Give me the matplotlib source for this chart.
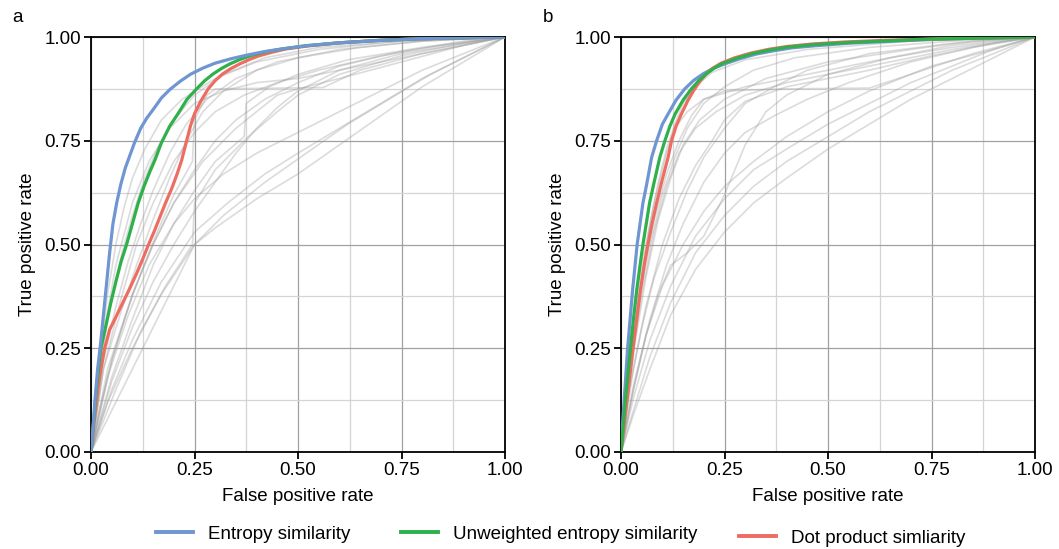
import matplotlib
matplotlib.use("Agg")
import matplotlib.pyplot as plt
from matplotlib.lines import Line2D

plt.rcParams["font.family"] = ["Liberation Sans", "DejaVu Sans"]
FS = 13.5

BLUE = "#6f95d3"
GREEN = "#2eb04b"
RED = "#ee6d63"

# panel a: highlighted methods (false positive rate, true positive rate)
a_entropy_fpr = [0, 0.005, 0.01, 0.016, 0.023, 0.03, 0.037, 0.045, 0.053, 0.062, 0.072, 0.083, 0.094,
                 0.105, 0.12, 0.135, 0.15, 0.17, 0.19, 0.215, 0.24, 0.27, 0.3, 0.34, 0.375, 0.42,
                 0.46, 0.52, 0.6, 0.7, 0.8, 0.9, 1.0]
a_entropy_tpr = [0, 0.06, 0.13, 0.2, 0.26, 0.33, 0.40, 0.48, 0.55, 0.60, 0.645, 0.685, 0.715,
                 0.745, 0.78, 0.805, 0.825, 0.853, 0.873, 0.893, 0.91, 0.925, 0.937, 0.948, 0.956, 0.965,
                 0.971, 0.979, 0.986, 0.992, 0.996, 0.998, 1.0]
a_unweighted_fpr = [0, 0.006, 0.012, 0.018, 0.024, 0.035, 0.048, 0.06, 0.073, 0.086, 0.1, 0.114, 0.128,
                    0.142, 0.155, 0.17, 0.19, 0.21, 0.232, 0.255, 0.275, 0.295, 0.315, 0.335, 0.36,
                    0.385, 0.42, 0.46, 0.52, 0.6, 0.7, 0.8, 0.9, 1.0]
a_unweighted_tpr = [0, 0.07, 0.14, 0.2, 0.25, 0.3, 0.36, 0.41, 0.46, 0.5, 0.55, 0.6, 0.64,
                    0.675, 0.705, 0.745, 0.785, 0.815, 0.85, 0.875, 0.895, 0.911, 0.924, 0.935, 0.946,
                    0.955, 0.964, 0.971, 0.979, 0.986, 0.992, 0.996, 0.998, 1.0]
a_dot_fpr = [0, 0.006, 0.012, 0.018, 0.024, 0.033, 0.045, 0.06, 0.077, 0.094, 0.11, 0.125, 0.139,
             0.152, 0.166, 0.18, 0.195, 0.208, 0.219, 0.231, 0.24, 0.25, 0.265, 0.283, 0.3, 0.318,
             0.338, 0.359, 0.383, 0.407, 0.44, 0.47, 0.52, 0.6, 0.7, 0.8, 0.9, 1.0]
a_dot_tpr = [0, 0.06, 0.11, 0.16, 0.2, 0.25, 0.295, 0.325, 0.36, 0.395, 0.43, 0.465, 0.5,
             0.53, 0.565, 0.6, 0.635, 0.67, 0.703, 0.75, 0.785, 0.815, 0.845, 0.875, 0.895, 0.911,
             0.924, 0.935, 0.946, 0.955, 0.964, 0.971, 0.978, 0.986, 0.992, 0.996, 0.998, 1.0]

# panel b: highlighted methods
b_entropy_fpr = [0, 0.004, 0.008, 0.012, 0.016, 0.022, 0.028, 0.034, 0.039, 0.046, 0.053, 0.062, 0.074,
                 0.086, 0.1, 0.114, 0.133, 0.154, 0.175, 0.198, 0.222, 0.25, 0.285, 0.327, 0.37,
                 0.414, 0.47, 0.55, 0.636, 0.72, 0.8, 0.9, 1.0]
b_entropy_tpr = [0, 0.07, 0.13, 0.19, 0.25, 0.32, 0.39, 0.45, 0.5, 0.55, 0.6, 0.645, 0.71,
                 0.75, 0.79, 0.815, 0.848, 0.875, 0.895, 0.911, 0.924, 0.935, 0.947, 0.959, 0.967,
                 0.974, 0.979, 0.985, 0.989, 0.993, 0.996, 0.998, 1.0]
b_unweighted_fpr = [0, 0.006, 0.011, 0.017, 0.023, 0.03, 0.038, 0.046, 0.053, 0.061, 0.069, 0.08, 0.094,
                    0.106, 0.118, 0.131, 0.15, 0.17, 0.188, 0.206, 0.225, 0.245, 0.28, 0.318, 0.36,
                    0.405, 0.47, 0.554, 0.65, 0.75, 0.85, 1.0]
b_unweighted_tpr = [0, 0.07, 0.13, 0.19, 0.25, 0.32, 0.39, 0.45, 0.5, 0.55, 0.6, 0.65, 0.711,
                    0.75, 0.785, 0.815, 0.848, 0.875, 0.895, 0.911, 0.925, 0.936, 0.949, 0.96, 0.969,
                    0.976, 0.982, 0.987, 0.991, 0.995, 0.997, 1.0]
b_dot_fpr = [0, 0.007, 0.014, 0.021, 0.029, 0.038, 0.047, 0.056, 0.065, 0.075, 0.086, 0.098, 0.114,
             0.122, 0.133, 0.146, 0.162, 0.178, 0.192, 0.206, 0.222, 0.242, 0.275, 0.313, 0.355,
             0.4, 0.46, 0.54, 0.64, 0.75, 0.85, 1.0]
b_dot_tpr = [0, 0.06, 0.12, 0.18, 0.25, 0.32, 0.39, 0.45, 0.5, 0.55, 0.6, 0.65, 0.711,
             0.75, 0.785, 0.815, 0.848, 0.875, 0.895, 0.911, 0.925, 0.937, 0.95, 0.961, 0.97,
             0.977, 0.983, 0.988, 0.992, 0.995, 0.997, 1.0]

# other methods (grey), panel a
a_other = [
    ([0, 0.02, 0.04, 0.06, 0.08, 0.1, 0.13, 0.17, 0.22, 0.3, 0.4, 0.55, 0.75, 1],
     [0, 0.22, 0.38, 0.5, 0.59, 0.66, 0.73, 0.8, 0.85, 0.9, 0.94, 0.97, 0.99, 1]),
    ([0, 0.025, 0.05, 0.075, 0.1, 0.13, 0.16, 0.2, 0.25, 0.32, 0.42, 0.55, 0.75, 1],
     [0, 0.23, 0.37, 0.48, 0.57, 0.66, 0.73, 0.8, 0.86, 0.91, 0.95, 0.975, 0.99, 1]),
    ([0, 0.03, 0.06, 0.09, 0.12, 0.15, 0.19, 0.23, 0.28, 0.35, 0.45, 0.6, 0.8, 1],
     [0, 0.22, 0.35, 0.46, 0.55, 0.63, 0.72, 0.79, 0.85, 0.9, 0.94, 0.97, 0.99, 1]),
    ([0, 0.03, 0.07, 0.11, 0.15, 0.19, 0.23, 0.27, 0.32, 0.4, 0.5, 0.65, 0.8, 1],
     [0, 0.2, 0.33, 0.45, 0.56, 0.66, 0.75, 0.82, 0.87, 0.92, 0.95, 0.975, 0.99, 1]),
    ([0, 0.04, 0.08, 0.12, 0.16, 0.2, 0.245, 0.25, 0.28, 0.3, 0.56, 0.65, 0.8, 1],
     [0, 0.2, 0.32, 0.43, 0.53, 0.62, 0.7, 0.8, 0.86, 0.875, 0.878, 0.92, 0.96, 1]),
    ([0, 0.05, 0.1, 0.15, 0.2, 0.25, 0.3, 0.37, 0.375, 0.43, 0.5, 0.62, 0.8, 1],
     [0, 0.18, 0.32, 0.45, 0.55, 0.63, 0.7, 0.76, 0.84, 0.88, 0.91, 0.945, 0.975, 1]),
    ([0, 0.05, 0.1, 0.15, 0.2, 0.25, 0.3, 0.35, 0.4, 0.45, 0.5, 0.6, 0.75, 1],
     [0, 0.17, 0.3, 0.41, 0.5, 0.58, 0.65, 0.72, 0.78, 0.83, 0.87, 0.92, 0.96, 1]),
    ([0, 0.06, 0.12, 0.18, 0.245, 0.25, 0.3, 0.38, 0.45, 0.5, 0.6, 0.75, 0.9, 1],
     [0, 0.15, 0.29, 0.4, 0.5, 0.6, 0.68, 0.76, 0.82, 0.86, 0.91, 0.955, 0.985, 1]),
    ([0, 0.05, 0.1, 0.15, 0.2, 0.25, 0.3, 0.4, 0.5, 0.6, 0.7, 0.8, 0.9, 1],
     [0, 0.1, 0.2, 0.3, 0.4, 0.5, 0.54, 0.61, 0.67, 0.74, 0.81, 0.88, 0.94, 1]),
    ([0, 0.04, 0.1, 0.17, 0.25, 0.32, 0.42, 0.52, 0.62, 0.72, 0.82, 0.92, 1],
     [0, 0.12, 0.25, 0.38, 0.5, 0.57, 0.65, 0.72, 0.79, 0.85, 0.91, 0.96, 1]),
    ([0, 0.05, 0.1, 0.17, 0.25, 0.33, 0.42, 0.5, 0.6, 0.7, 0.8, 0.9, 1],
     [0, 0.15, 0.27, 0.41, 0.53, 0.6, 0.67, 0.72, 0.78, 0.84, 0.9, 0.95, 1]),
    ([0, 0.04, 0.09, 0.14, 0.2, 0.25, 0.32, 0.4, 0.5, 0.6, 0.7, 0.8, 0.9, 1],
     [0, 0.18, 0.33, 0.45, 0.55, 0.61, 0.67, 0.72, 0.77, 0.82, 0.87, 0.92, 0.96, 1]),
    ([0, 0.03, 0.06, 0.1, 0.14, 0.19, 0.25, 0.32, 0.4, 0.5, 0.6, 0.75, 0.9, 1],
     [0, 0.28, 0.45, 0.6, 0.7, 0.78, 0.84, 0.87, 0.89, 0.9, 0.92, 0.95, 0.98, 1]),
    ([0, 0.03, 0.07, 0.11, 0.15, 0.2, 0.25, 0.3, 0.37, 0.45, 0.55, 0.7, 0.85, 1],
     [0, 0.2, 0.36, 0.5, 0.6, 0.7, 0.77, 0.82, 0.86, 0.89, 0.92, 0.955, 0.98, 1]),
    ([0, 0.05, 0.1, 0.15, 0.2, 0.25, 0.3, 0.35, 0.42, 0.5, 0.6, 0.75, 0.9, 1],
     [0, 0.22, 0.38, 0.5, 0.6, 0.68, 0.75, 0.8, 0.85, 0.89, 0.93, 0.965, 0.99, 1]),
    ([0, 0.02, 0.05, 0.1, 0.15, 0.2, 0.27, 0.35, 0.45, 0.5, 0.6, 0.75, 0.9, 1],
     [0, 0.1, 0.22, 0.38, 0.5, 0.6, 0.7, 0.78, 0.86, 0.875, 0.9, 0.94, 0.98, 1]),
]

# other methods (grey), panel b
b_other = [
    ([0, 0.03, 0.07, 0.12, 0.18, 0.25, 0.32, 0.4, 0.5, 0.6, 0.7, 0.8, 0.9, 1],
     [0, 0.09, 0.2, 0.33, 0.44, 0.53, 0.6, 0.66, 0.73, 0.79, 0.85, 0.9, 0.95, 1]),
    ([0, 0.03, 0.07, 0.12, 0.18, 0.25, 0.32, 0.4, 0.5, 0.6, 0.7, 0.8, 0.9, 1],
     [0, 0.1, 0.23, 0.36, 0.48, 0.57, 0.64, 0.7, 0.76, 0.82, 0.87, 0.92, 0.96, 1]),
    ([0, 0.03, 0.07, 0.12, 0.18, 0.25, 0.32, 0.4, 0.5, 0.6, 0.7, 0.8, 0.9, 1],
     [0, 0.13, 0.27, 0.4, 0.52, 0.61, 0.68, 0.73, 0.79, 0.84, 0.89, 0.93, 0.97, 1]),
    ([0, 0.03, 0.06, 0.1, 0.15, 0.2, 0.25, 0.32, 0.4, 0.5, 0.6, 0.75, 0.9, 1],
     [0, 0.15, 0.28, 0.4, 0.5, 0.58, 0.64, 0.7, 0.76, 0.82, 0.87, 0.93, 0.97, 1]),
    ([0, 0.02, 0.05, 0.08, 0.12, 0.16, 0.2, 0.25, 0.3, 0.37, 0.45, 0.6, 0.8, 1],
     [0, 0.15, 0.3, 0.42, 0.53, 0.63, 0.71, 0.78, 0.84, 0.88, 0.92, 0.96, 0.985, 1]),
    ([0, 0.02, 0.04, 0.07, 0.1, 0.13, 0.16, 0.2, 0.25, 0.32, 0.42, 0.6, 0.8, 1],
     [0, 0.2, 0.35, 0.5, 0.62, 0.71, 0.78, 0.84, 0.88, 0.92, 0.95, 0.975, 0.99, 1]),
    ([0, 0.02, 0.05, 0.08, 0.11, 0.14, 0.17, 0.2, 0.25, 0.4, 0.6, 0.7, 0.85, 1],
     [0, 0.22, 0.42, 0.56, 0.67, 0.75, 0.81, 0.85, 0.87, 0.875, 0.877, 0.91, 0.96, 1]),
    ([0, 0.02, 0.05, 0.08, 0.11, 0.13, 0.16, 0.2, 0.3, 0.4, 0.5, 0.65, 0.8, 1],
     [0, 0.25, 0.45, 0.6, 0.72, 0.78, 0.82, 0.85, 0.88, 0.9, 0.92, 0.95, 0.975, 1]),
    ([0, 0.015, 0.03, 0.05, 0.07, 0.09, 0.11, 0.13, 0.15, 0.18, 0.22, 0.3, 0.45, 0.7, 1],
     [0, 0.15, 0.28, 0.42, 0.55, 0.65, 0.73, 0.79, 0.84, 0.88, 0.915, 0.945, 0.97, 0.99, 1]),
    ([0, 0.02, 0.05, 0.08, 0.11, 0.14, 0.18, 0.23, 0.3, 0.4, 0.5, 0.65, 0.8, 1],
     [0, 0.18, 0.38, 0.53, 0.64, 0.72, 0.78, 0.82, 0.86, 0.89, 0.91, 0.94, 0.97, 1]),
    ([0, 0.03, 0.06, 0.09, 0.12, 0.16, 0.2, 0.25, 0.3, 0.35, 0.4, 0.5, 0.65, 0.8, 1],
     [0, 0.15, 0.28, 0.38, 0.45, 0.48, 0.52, 0.62, 0.74, 0.82, 0.86, 0.91, 0.95, 0.98, 1]),
    ([0, 0.03, 0.07, 0.11, 0.15, 0.2, 0.25, 0.3, 0.37, 0.45, 0.55, 0.7, 0.85, 1],
     [0, 0.16, 0.32, 0.45, 0.55, 0.65, 0.72, 0.77, 0.81, 0.85, 0.89, 0.94, 0.975, 1]),
    ([0, 0.03, 0.06, 0.1, 0.14, 0.18, 0.22, 0.25, 0.3, 0.4, 0.5, 0.6, 0.75, 0.9, 1],
     [0, 0.2, 0.35, 0.5, 0.61, 0.69, 0.75, 0.8, 0.845, 0.88, 0.9, 0.92, 0.955, 0.985, 1]),
    ([0, 0.015, 0.035, 0.06, 0.09, 0.12, 0.15, 0.19, 0.25, 0.35, 0.5, 0.7, 0.85, 1],
     [0, 0.12, 0.27, 0.42, 0.56, 0.66, 0.74, 0.8, 0.85, 0.9, 0.94, 0.97, 0.99, 1]),
]

ticks = [0, 0.25, 0.5, 0.75, 1.0]
tick_labels = ["0.00", "0.25", "0.50", "0.75", "1.00"]
minor = [0.125, 0.375, 0.625, 0.875]


def draw_panel(ax, others, main):
    ax.set_xlim(0, 1)
    ax.set_ylim(0, 1)
    ax.set_xticks(ticks)
    ax.set_xticklabels(tick_labels)
    ax.set_yticks(ticks)
    ax.set_yticklabels(tick_labels)
    ax.set_xticks(minor, minor=True)
    ax.set_yticks(minor, minor=True)
    ax.grid(which="major", color="#a0a0a0", lw=0.9, zorder=0)
    ax.grid(which="minor", color="#d4d4d4", lw=0.9, zorder=0)
    ax.tick_params(which="major", direction="out", length=5, width=1.3, labelsize=FS, pad=2)
    ax.tick_params(which="minor", length=0)
    for s in ax.spines.values():
        s.set_linewidth(1.3)
        s.set_color("black")
    ax.set_axisbelow(True)
    for xs, ys in others:
        ax.plot(xs, ys, color="#9a9a9a", alpha=0.35, lw=1.2, zorder=2)
    for (xs, ys), c in main:
        ax.plot(xs, ys, color=c, lw=2.3, zorder=3, solid_capstyle="round", solid_joinstyle="round")
    ax.set_xlabel("False positive rate", fontsize=FS, labelpad=7)
    ax.set_ylabel("True positive rate", fontsize=FS, labelpad=6)


fig = plt.figure(figsize=(10.59, 5.49), dpi=100)
ax1 = fig.add_axes([91 / 1059, 97 / 549, 414 / 1059, 415 / 549])
ax2 = fig.add_axes([621 / 1059, 97 / 549, 414 / 1059, 415 / 549])

draw_panel(ax1, a_other, [((a_dot_fpr, a_dot_tpr), RED),
                          ((a_unweighted_fpr, a_unweighted_tpr), GREEN),
                          ((a_entropy_fpr, a_entropy_tpr), BLUE)])
draw_panel(ax2, b_other, [((b_entropy_fpr, b_entropy_tpr), BLUE),
                          ((b_dot_fpr, b_dot_tpr), RED),
                          ((b_unweighted_fpr, b_unweighted_tpr), GREEN)])

fig.text(12 / 1059, 1 - 18 / 549, "a", fontsize=FS, va="center")
fig.text(543 / 1059, 1 - 18 / 549, "b", fontsize=FS, va="center")

legend_items = [("Entropy similarity", BLUE, 156, 534),
                ("Unweighted entropy similarity", GREEN, 401, 534),
                ("Dot product simliarity", RED, 739, 538)]
for label, c, px, py in legend_items:
    h = Line2D([], [], color=c, lw=2.8)
    fig.legend([h], [label], loc="center left", bbox_to_anchor=(px / 1059, 1 - py / 549),
               frameon=False, fontsize=FS, handlelength=1.95, handletextpad=0.8,
               borderpad=0, borderaxespad=0)

fig.savefig("out.png", dpi=100)
